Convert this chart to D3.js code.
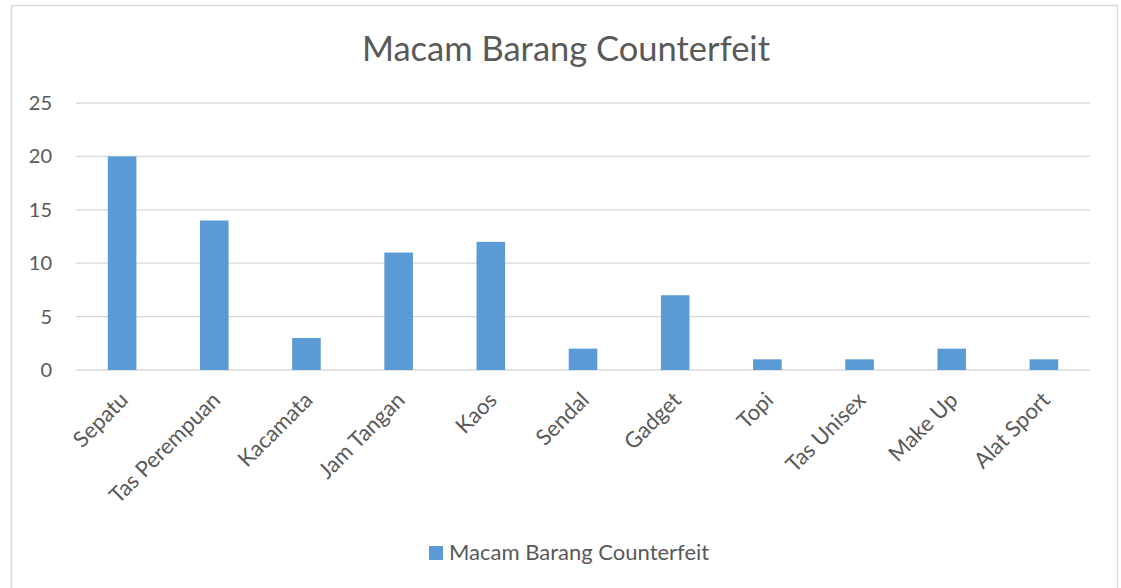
<!DOCTYPE html>
<html>
<head>
<meta charset="utf-8">
<script src="https://cdn.jsdelivr.net/npm/d3@7"></script>
<style>
  body { margin: 0; background: #fff; }
  text { font-family: Lato, "Open Sans", sans-serif; fill: #595959; }
</style>
</head>
<body>
<svg></svg>
<script>
var width = 1121, height = 588;
var categories = ["Sepatu", "Tas Perempuan", "Kacamata", "Jam Tangan", "Kaos", "Sendal",
                  "Gadget", "Topi", "Tas Unisex", "Make Up", "Alat Sport"];
var counts = [20, 14, 3, 11, 12, 2, 7, 1, 1, 2, 1];
var yTicks = [0, 5, 10, 15, 20, 25];
var seriesName = "Macam Barang Counterfeit";

var plotLeft = 76, plotRight = 1090, plotTop = 103, plotBottom = 370;

var svg = d3.select("svg")
            .attr("width", width)
            .attr("height", height);

// chart border
svg.append("rect")
   .attr("x", 11.5).attr("y", 5.5)
   .attr("width", 1106).attr("height", 600)
   .attr("fill", "none")
   .attr("stroke", "#d9d9d9")
   .attr("stroke-width", 1.5);

var xScale = d3.scaleBand()
               .domain(categories)
               .range([plotLeft, plotRight])
               .paddingInner(0.69)
               .paddingOuter(0.345);

var yScale = d3.scaleLinear()
               .domain([0, 25])
               .range([plotBottom, plotTop]);

// gridlines
svg.append("g")
   .selectAll("line")
   .data(yTicks)
   .enter()
   .append("line")
   .attr("x1", plotLeft).attr("x2", plotRight)
   .attr("y1", d => yScale(d)).attr("y2", d => yScale(d))
   .attr("stroke", "#d9d9d9")
   .attr("stroke-width", 1.3);

// y labels
var yAxis = d3.axisLeft(yScale).tickValues(yTicks).tickSize(0).tickPadding(24);
var yg = svg.append("g")
   .attr("transform", "translate(" + plotLeft + ",0)")
   .call(yAxis);
yg.select(".domain").remove();
yg.selectAll("text").style("font-size", "20px").attr("fill", "#595959");

// bars
svg.append("g")
   .selectAll("rect")
   .data(categories)
   .enter()
   .append("rect")
   .attr("x", d => xScale(d))
   .attr("width", xScale.bandwidth())
   .attr("y", (d, i) => yScale(counts[i]))
   .attr("height", (d, i) => yScale(0) - yScale(counts[i]))
   .attr("fill", "#5b9bd5");

// x labels
var xAxis = d3.axisBottom(xScale).tickSize(0).tickPadding(0);
var xg = svg.append("g")
   .attr("transform", "translate(0," + plotBottom + ")")
   .call(xAxis);
xg.select(".domain").remove();
xg.selectAll("text")
  .style("font-size", "22px")
  .attr("fill", "#595959")
  .attr("text-anchor", "end")
  .attr("dy", "0.35em")
  .attr("transform", "translate(2,26) rotate(-45)");

// title
svg.append("text")
   .attr("x", 566)
   .attr("y", 61)
   .attr("text-anchor", "middle")
   .style("font-size", "34.5px")
   .text(seriesName);

// legend
svg.append("rect")
   .attr("x", 429).attr("y", 546)
   .attr("width", 14).attr("height", 14)
   .attr("fill", "#5b9bd5");
svg.append("text")
   .attr("x", 449)
   .attr("y", 560)
   .style("font-size", "22px")
   .text(seriesName);
</script>
</body>
</html>
